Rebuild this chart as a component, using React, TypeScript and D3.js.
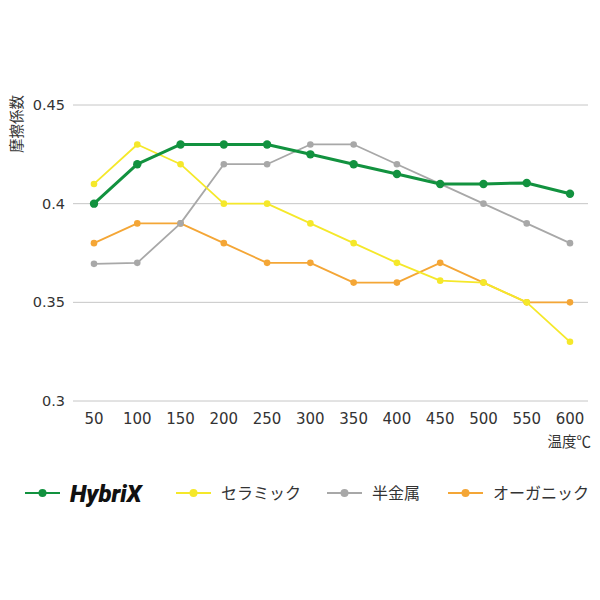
import { useEffect, useRef } from 'react';
import * as d3 from 'd3';

const temps = [50, 100, 150, 200, 250, 300, 350, 400, 450, 500, 550, 600];
const hybrix = [0.4, 0.42, 0.43, 0.43, 0.43, 0.425, 0.42, 0.415, 0.41, 0.41, 0.4105, 0.405];
const ceramic = [0.41, 0.43, 0.42, 0.4, 0.4, 0.39, 0.38, 0.37, 0.361, 0.36, 0.35, 0.33];
const semiMetal = [0.3695, 0.37, 0.39, 0.42, 0.42, 0.43, 0.43, 0.42, 0.41, 0.4, 0.39, 0.38];
const organic = [0.38, 0.39, 0.39, 0.38, 0.37, 0.37, 0.36, 0.36, 0.37, 0.36, 0.35, 0.35];
const yTicks = [0.3, 0.35, 0.4, 0.45];

const series = [
  { name: 'HybriX', values: hybrix, color: '#12923f', width: 3, r: 4.2, logo: true },
  { name: 'セラミック', values: ceramic, color: '#f5e82a', width: 1.8, r: 3.3, logo: false },
  { name: '半金属', values: semiMetal, color: '#a8a8a8', width: 1.8, r: 3.3, logo: false },
  { name: 'オーガニック', values: organic, color: '#f4a636', width: 1.8, r: 3.3, logo: false },
];

export default function App() {
  const ref = useRef<SVGSVGElement | null>(null);

  useEffect(() => {
    document.body.style.margin = '0';
    const svg = d3.select(ref.current);
    svg.selectAll('*').remove();

    const font = '"DejaVu Sans", Verdana, sans-serif';
    const jp = '"Noto Sans CJK JP", sans-serif';
    const gridLeft = 73;
    const gridRight = 588;

    const x = d3.scalePoint<number>().domain(temps).range([94, 570]);
    const y = d3.scaleLinear().domain([0.3, 0.45]).range([401, 105]);

    // grid lines
    svg
      .append('g')
      .selectAll('line')
      .data(yTicks)
      .enter()
      .append('line')
      .attr('x1', gridLeft)
      .attr('x2', gridRight)
      .attr('y1', (d) => y(d))
      .attr('y2', (d) => y(d))
      .attr('stroke', '#c6c6c6')
      .attr('stroke-width', 1);

    // y tick labels
    svg
      .append('g')
      .selectAll('text')
      .data(yTicks)
      .enter()
      .append('text')
      .attr('x', 65)
      .attr('y', (d) => y(d))
      .attr('dy', '0.35em')
      .attr('text-anchor', 'end')
      .style('font-family', font)
      .style('font-size', '14.5px')
      .style('fill', '#333')
      .text((d) => d3.format('')(d));

    // x tick labels
    svg
      .append('g')
      .selectAll('text')
      .data(temps)
      .enter()
      .append('text')
      .attr('x', (d) => x(d)!)
      .attr('y', 424)
      .attr('text-anchor', 'middle')
      .style('font-family', font)
      .style('font-size', '15px')
      .style('fill', '#333')
      .text((d) => d);

    svg
      .append('text')
      .attr('x', 591)
      .attr('y', 447)
      .attr('text-anchor', 'end')
      .style('font-family', jp)
      .style('font-size', '14.5px')
      .style('fill', '#333')
      .text('温度℃');

    svg
      .append('text')
      .attr('transform', 'translate(22,124) rotate(-90)')
      .attr('text-anchor', 'middle')
      .style('font-family', jp)
      .style('font-size', '14.5px')
      .style('fill', '#333')
      .text('摩擦係数');

    const line = d3
      .line<number>()
      .x((_d, i) => x(temps[i])!)
      .y((d) => y(d));

    // draw lighter series first, HybriX on top
    const order = [3, 2, 1, 0];
    order.forEach((k) => {
      const s = series[k];
      const g = svg.append('g');
      g.append('path')
        .datum(s.values)
        .attr('d', line)
        .attr('fill', 'none')
        .attr('stroke', s.color)
        .attr('stroke-width', s.width)
        .attr('stroke-linejoin', 'round');
      g.selectAll('circle')
        .data(s.values)
        .enter()
        .append('circle')
        .attr('cx', (_d, i) => x(temps[i])!)
        .attr('cy', (d) => y(d))
        .attr('r', s.r)
        .attr('fill', s.color);
    });

    // legend
    const legendX = [25, 176, 327, 448];
    const ly = 493;
    series.forEach((s, i) => {
      const g = svg.append('g').attr('transform', `translate(${legendX[i]},${ly})`);
      g.append('line')
        .attr('x1', 0)
        .attr('x2', 35)
        .attr('stroke', s.color)
        .attr('stroke-width', 2);
      g.append('circle').attr('cx', 17.5).attr('r', 4).attr('fill', s.color);
      if (s.logo) {
        g.append('text')
          .attr('x', 45)
          .attr('dy', '0.36em')
          .style('font-family', 'Roboto, "DejaVu Sans", sans-serif')
          .style('font-size', '24px')
          .style('font-weight', '900')
          .style('font-style', 'italic')
          .style('letter-spacing', '0px')
          .style('fill', '#111')
          .text(s.name);
      } else {
        g.append('text')
          .attr('x', 45)
          .attr('dy', '0.36em')
          .style('font-family', jp)
          .style('font-size', '16px')
          .style('fill', '#333')
          .text(s.name);
      }
    });
  }, []);

  return <svg ref={ref} width={600} height={600} style={{ display: 'block', background: '#fff' }} />;
}
